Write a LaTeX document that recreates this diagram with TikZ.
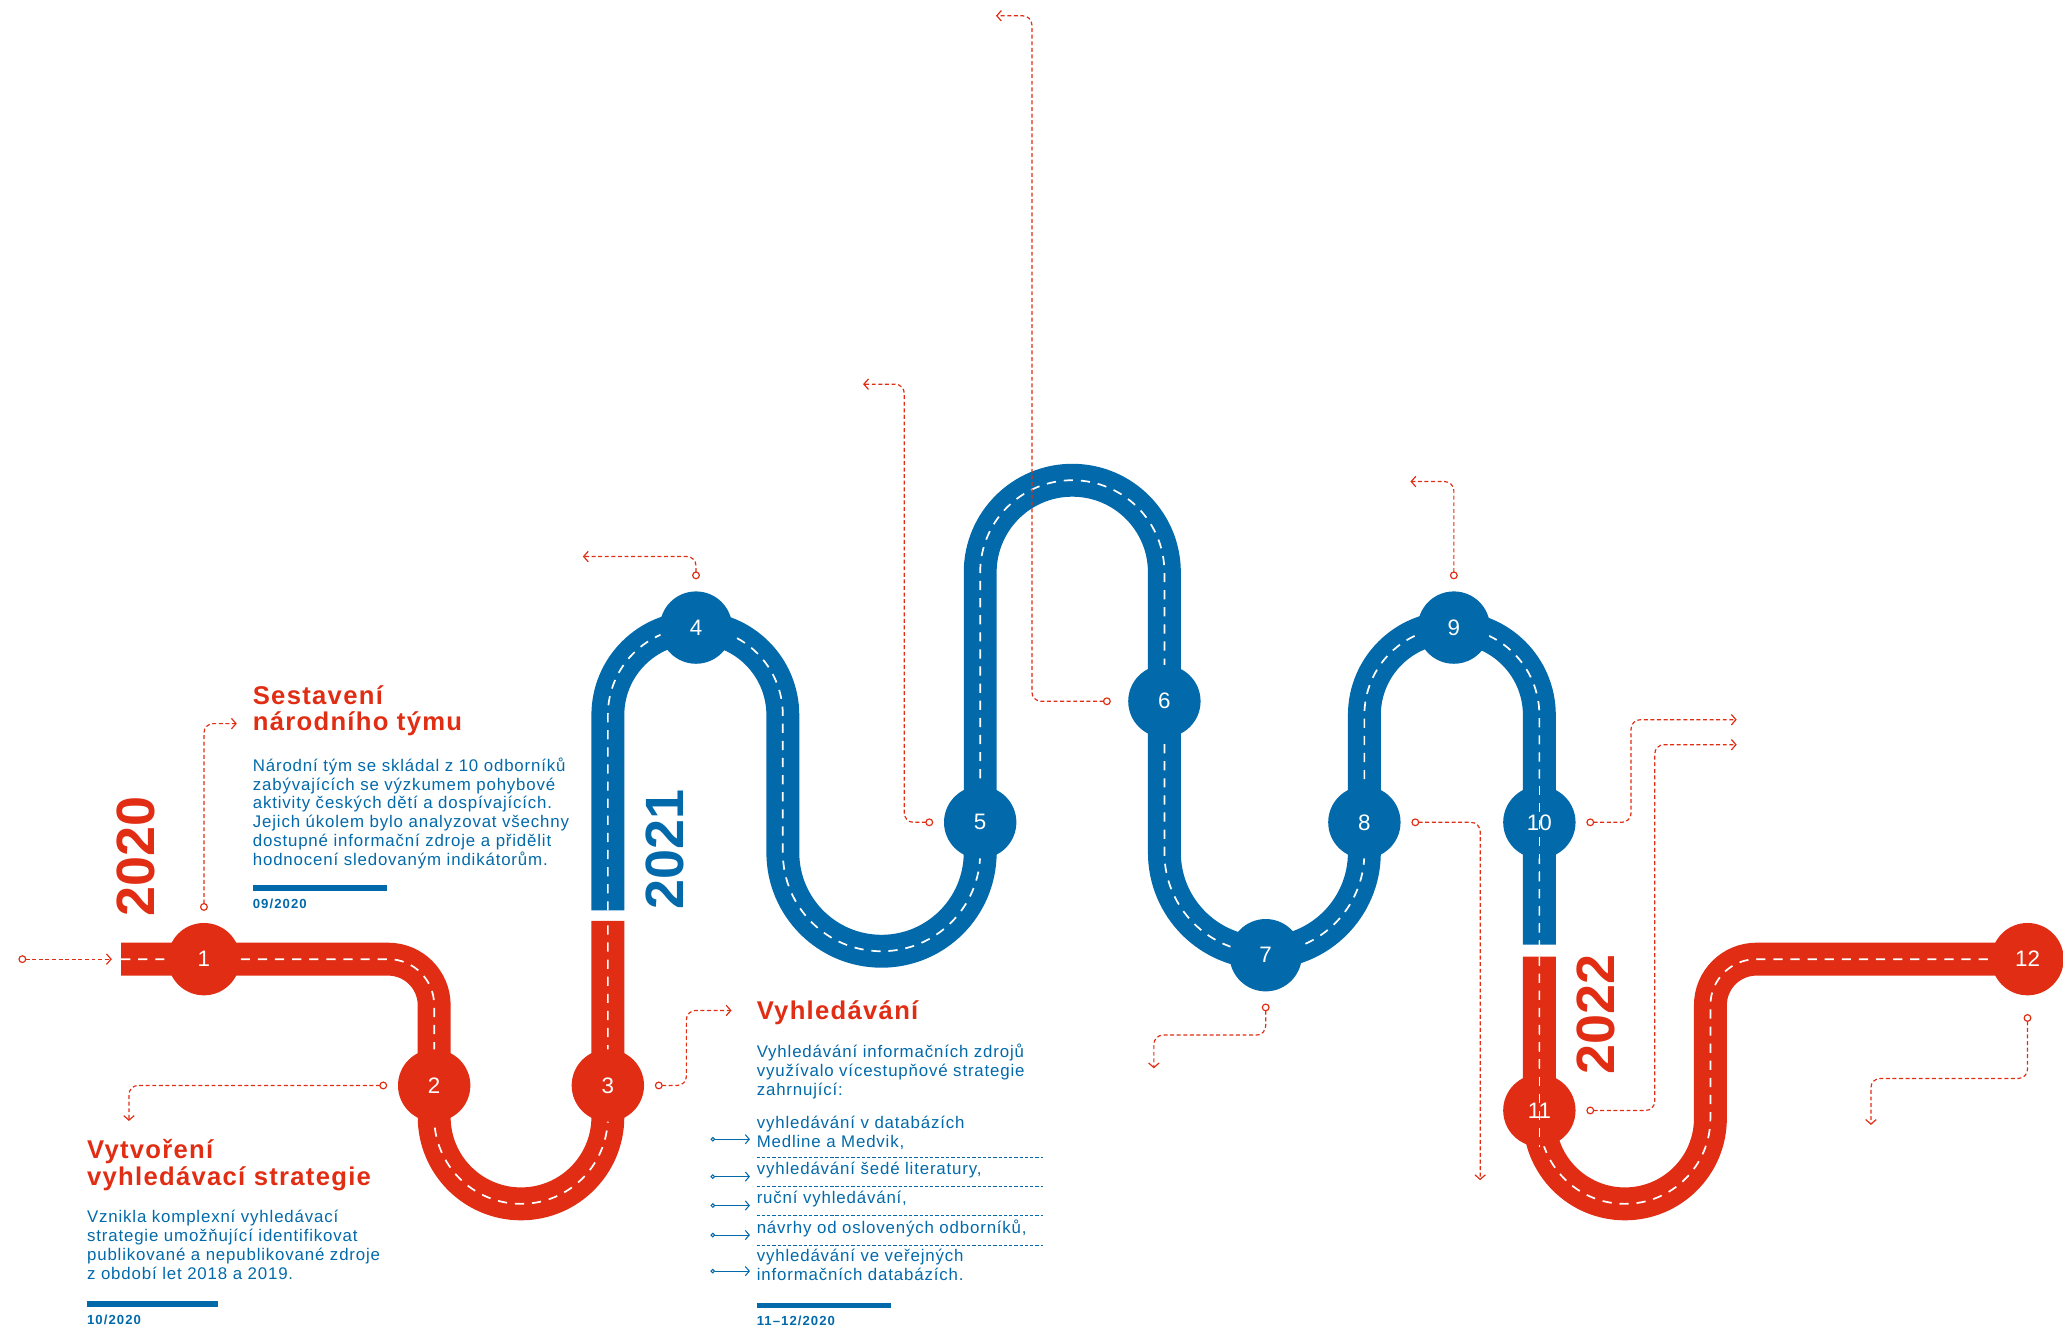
\documentclass[tikz,border=0pt]{standalone}
\usepackage{fontspec}
\setmainfont{Liberation Sans}
\usetikzlibrary{arrows.meta, positioning, calc}

\definecolor{roadred}{RGB}{224,45,19}
\definecolor{roadblue}{RGB}{2,105,170}

\begin{document}
\begin{tikzpicture}[
    x=1pt, y=-1pt,
    lane/.style      = {draw=white, line width=1.3pt, dash pattern=on 7pt off 6pt},
    road/.style      = {line width=25pt, postaction={lane}},
    stop/.style      = {circle, minimum size=55pt, inner sep=0pt, text=white,
                        font=\fontsize{17}{17}\selectfont},
    link/.style      = {roadred, line width=0.9pt, dash pattern=on 3pt off 2pt,
                        rounded corners=7pt,
                        {Circle[open, length=6pt, width=6pt]}-{Straight Barb[length=3.5pt, width=8pt]}},
    year/.style      = {rotate=90, inner sep=0pt,
                        font=\fontsize{41}{41}\selectfont\bfseries},
    headline/.style  = {anchor=north west, align=left, inner sep=0pt, text=roadred,
                        font=\fontsize{19.5}{20}\selectfont\bfseries\addfontfeature{LetterSpace=5}},
    body/.style      = {anchor=north west, align=left, inner sep=0pt, text=roadblue,
                        font=\fontsize{12.8}{14.3}\selectfont\addfontfeature{LetterSpace=5}},
    rulebar/.style   = {roadblue, line width=4pt},
    date/.style      = {anchor=north west, inner sep=0pt, text=roadblue,
                        font=\fontsize{10}{12}\selectfont\bfseries\addfontfeature{LetterSpace=8}},
    listarrow/.style = {roadblue, line width=0.8pt,
                        {Circle[open, length=3.5pt, width=3.5pt]}-{Straight Barb[length=3pt, width=7pt]}},
    sep/.style       = {roadblue, line width=0.6pt, dash pattern=on 2.5pt off 1.5pt}
]
\useasboundingbox (0,0) rectangle (1568,1010);

% ========= road =========
\coordinate (roadstart) at (92,729);
% 2020
\draw[road, roadred] (roadstart) -- (295,729) arc[start angle=270, end angle=360, radius=35]
    -- (330,849) arc[start angle=180, end angle=0, radius=66] -- (462,700);
% 2021
\draw[road, roadblue] (462,692) -- (462,543.5) arc[start angle=180, end angle=360, radius=66.5]
    -- (595,648) arc[start angle=180, end angle=0, radius=75]
    -- (745,435) arc[start angle=180, end angle=360, radius=70]
    -- (885,648) arc[start angle=180, end angle=0, radius=76]
    -- (1037,543.5) arc[start angle=180, end angle=360, radius=66.5] -- (1170,718);
% 2022
\draw[road, roadred] (1170,727) -- (1170,850) arc[start angle=180, end angle=0, radius=65]
    -- (1300,764) arc[start angle=180, end angle=270, radius=35] -- (1541,729);

% ========= stops =========
\node[stop, fill=roadred]  (c1)  at (155,729)  {1};
\node[stop, fill=roadred]  (c2)  at (330,825)  {2};
\node[stop, fill=roadred]  (c3)  at (462,825)  {3};
\node[stop, fill=roadblue] (c4)  at (529,477)  {4};
\node[stop, fill=roadblue] (c5)  at (745,625)  {5};
\node[stop, fill=roadblue] (c6)  at (885,533)  {6};
\node[stop, fill=roadblue] (c7)  at (962,726)  {7};
\node[stop, fill=roadblue] (c8)  at (1037,625) {8};
\node[stop, fill=roadblue] (c9)  at (1105,477) {9};
\node[stop, fill=roadblue] (c10) at (1170,625) {10};
\node[stop, fill=roadred]  (c11) at (1170,844) {11};
\node[stop, fill=roadred]  (c12) at (1541,729) {12};
\draw[lane] (c10.north) -- (c11.south);

% ========= years =========
\node[year, text=roadred]  (y2020) at (103,651)  {2020};
\node[year, text=roadblue] (y2021) at (505,646)  {2021};
\node[year, text=roadred]  (y2022) at (1213,771) {2022};

% ========= pointers =========
\coordinate (in0) at (14,729);
\coordinate (e1)  at (180,550);
\coordinate (e2)  at (98,852);
\coordinate (e3)  at (556,768);
\coordinate (e4)  at (443,423);
\coordinate (e5)  at (656,292);
\coordinate (e6)  at (757,12);
\coordinate (e7)  at (877,812);
\coordinate (e8)  at (1125,897);
\coordinate (e9)  at (1072,366);
\coordinate (e10) at (1320,547);
\coordinate (e11) at (1320,566);
\coordinate (e12) at (1422,855);

\draw[link] (in0) -- ([xshift=-7pt]roadstart);
\draw[link] ([yshift=9pt]c1.north)    |- (e1);
\draw[link] ([xshift=-8pt]c2.west)    -| (e2);
\draw[link] ([xshift=8pt]c3.east)     -- ++(24,0) |- (e3);
\draw[link] ([yshift=9pt]c4.north)    |- (e4);
\draw[link] ([xshift=-8pt]c5.west)    -- ++(-22,0) |- (e5);
\draw[link] ([xshift=-13pt]c6.west)   -- ++(-60,0) |- (e6);
\draw[link] ([yshift=-9pt]c7.south)   -- ++(0,24) -| (e7);
\draw[link] ([xshift=8pt]c8.east)     -| (e8);
\draw[link] ([yshift=9pt]c9.north)    |- (e9);
\draw[link] ([xshift=8pt]c10.east)    -- ++(34,0) |- (e10);
\draw[link] ([xshift=8pt]c11.east)    -- ++(52,0) |- (e11);
\draw[link] ([yshift=-14pt]c12.south) -- ++(0,49) -| (e12);

% ========= team =========
\node[headline] (t1) at (192,521) {Sestavení\\národního týmu};
\node[body] (b1) at ([yshift=-16pt]t1.south west)
    {Národní tým se skládal z 10 odborníků\\zabývajících se výzkumem pohybové\\aktivity českých dětí a dospívajících.\\Jejich úkolem bylo analyzovat všechny\\dostupné informační zdroje a přidělit\\hodnocení sledovaným indikátorům.};
\node[date] (d1) at (192,683) {09/2020};
\draw[rulebar] ([yshift=8pt]d1.north west) -- ++(102,0);

% ========= strategy =========
\node[headline] (t2) at (66,866) {Vytvoření\\vyhledávací strategie};
\node[body] (b2) at ([yshift=-14.5pt]t2.south west)
    {Vznikla komplexní vyhledávací\\strategie umožňující identifikovat\\publikované a nepublikované zdroje\\z období let 2018 a 2019.};
\node[date] (d2) at (66,999) {10/2020};
\draw[rulebar] ([yshift=8pt]d2.north west) -- ++(100,0);

% ========= search =========
\node[headline] (t3) at (575,760) {Vyhledávání};
\node[body] (b3) at ([yshift=-14.5pt]t3.south west)
    {Vyhledávání informačních zdrojů\\využívalo vícestupňové strategie\\zahrnující:};
\node[body] (i1) at (575,848) {vyhledávání v databázích\\Medline a Medvik,};
\node[body] (i2) at (575,883) {vyhledávání šedé literatury,};
\node[body] (i3) at (575,905) {ruční vyhledávání,};
\node[body] (i4) at (575,927) {návrhy od oslovených odborníků,};
\node[body] (i5) at (575,949) {vyhledávání ve veřejných\\informačních databázích.};
\foreach \i in {i1,i2,i3,i4,i5}
  \draw[listarrow] ([xshift=-35pt,yshift=-5pt]\i.west) -- ([xshift=-5pt,yshift=-5pt]\i.west);
\foreach \i in {i1,i2,i3,i4}
  \draw[sep] ([yshift=-6pt]\i.south west) -- ++(218,0);
\node[date] (d3) at (575,1000) {11–12/2020};
\draw[rulebar] ([yshift=8pt]d3.north west) -- ++(102,0);
\end{tikzpicture}
\end{document}
